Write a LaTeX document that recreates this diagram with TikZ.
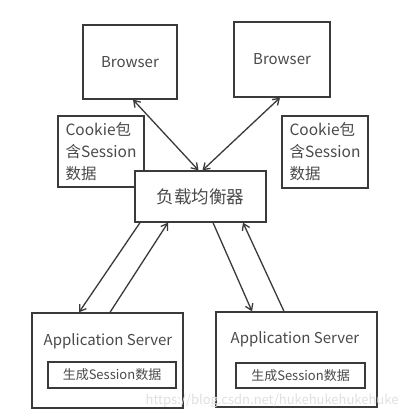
\documentclass[tikz,border=0pt]{standalone}
\usepackage{fontspec}
\setmainfont{Noto Sans CJK SC}
\usetikzlibrary{arrows.meta}
\definecolor{ln}{HTML}{3A3A3A}
\definecolor{tx}{HTML}{4A4A4A}
\tikzset{
  box/.style={draw=ln, line width=1.3pt, inner sep=0pt, text=tx},
  conn/.style={draw=ln, line width=1.3pt, -{Straight Barb[length=6pt,width=8pt]}},
  dconn/.style={draw=ln, line width=1.3pt, {Straight Barb[length=6pt,width=8pt]}-{Straight Barb[length=6pt,width=8pt]}},
}
\begin{document}
\begin{tikzpicture}[x=1pt,y=-1pt]
\useasboundingbox[fill=white] (0,0) rectangle (410,419);
% boxes
\node[box, minimum width=94pt, minimum height=74pt, font=\fontsize{15}{18}\selectfont] (b1) at (130,62) {Browser};
\node[box, minimum width=96pt, minimum height=75pt, font=\fontsize{15}{18}\selectfont] (b2) at (282,59.5) {Browser};
\node[box, minimum width=86pt, minimum height=71pt, align=left, font=\fontsize{15.5}{22}\selectfont] (c1) at (101,151.5) {Cookie包\\含Session\\数据};
\node[box, minimum width=86pt, minimum height=72pt, align=left, font=\fontsize{15.5}{22}\selectfont] (c2) at (325,152) {Cookie包\\含Session\\数据};
\node[box, fill=white, minimum width=131pt, minimum height=51pt, font=\fontsize{17.5}{20}\selectfont] (lb) at (200.5,196.5) {负载均衡器};
\node[box, minimum width=151pt, minimum height=95pt] (a1) at (107.5,360.5) {};
\node[box, minimum width=161pt, minimum height=95pt] (a2) at (296.5,359.5) {};
\node[text=tx, font=\fontsize{15}{18}\selectfont] (t1) at (108,341) {Application Server};
\node[text=tx, font=\fontsize{15}{18}\selectfont] (t2) at (295,339) {Application Server};
\node[box, minimum width=128pt, minimum height=26pt, font=\fontsize{13}{15}\selectfont] (i1) at (112,375) {生成Session数据};
\node[box, minimum width=129pt, minimum height=25pt, font=\fontsize{13}{15}\selectfont] (i2) at (300.5,375.5) {生成Session数据};
% connectors
\draw[dconn] ([xshift=3pt]b1.south) -- ([xshift=-2pt]lb.north);
\draw[dconn] ([xshift=2pt]lb.north) -- ([xshift=-2pt]b2.south);
\draw[conn] ([xshift=-60.5pt]lb.south) -- ([xshift=-28.5pt]a1.north);
\draw[conn] ([xshift=2.5pt]a1.north) -- ([xshift=-32.5pt]lb.south);
\draw[conn] ([xshift=12.5pt]lb.south) -- ([xshift=-44.5pt]a2.north);
\draw[conn] ([xshift=-12.5pt]a2.north) -- ([xshift=42.5pt]lb.south);
% watermark
\node[text=black!12, font=\fontsize{13}{15}\selectfont, anchor=east] (wm) at (402,401) {https://blog.csdn.net/hukehukehukehuke};
\end{tikzpicture}
\end{document}
